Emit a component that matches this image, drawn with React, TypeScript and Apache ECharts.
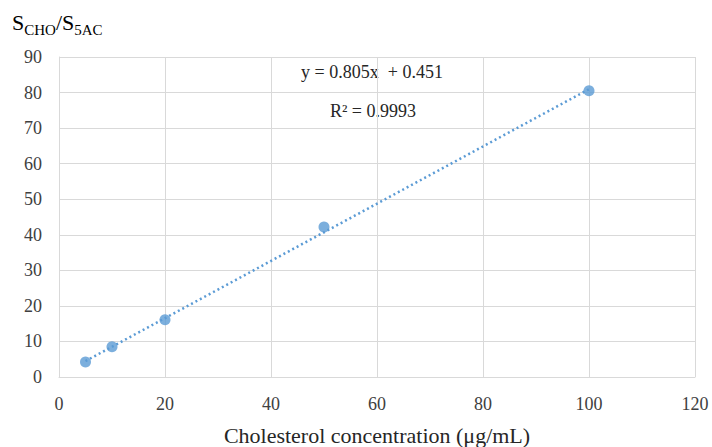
import React, { useEffect, useRef } from "react";
import * as echarts from "echarts";

const concentrations = [5, 10, 20, 50, 100];
const ratios = [4.2, 8.5, 16.1, 42.2, 80.5];
const fitSlope = 0.805;
const fitIntercept = 0.451;
const fitRange = [5, 100];
const equationLabel = "y = 0.805x  + 0.451";
const r2Label = "R² = 0.9993";
const xTitle = "Cholesterol concentration (μg/mL)";

export default function App() {
  const ref = useRef<HTMLDivElement>(null);
  useEffect(() => {
    if (!ref.current) return;
    const chart = echarts.init(ref.current, undefined, { renderer: "svg" });
    const font = "Liberation Serif";
    const trend = fitRange.map((x) => [x, fitSlope * x + fitIntercept]);
    chart.setOption({
      animation: false,
      backgroundColor: "#ffffff",
      grid: {
        left: 59,
        right: 17,
        top: 57,
        bottom: 70,
        containLabel: false,
        outerBoundsMode: "none",
      },
      xAxis: {
        type: "value",
        min: 0,
        max: 120,
        interval: 20,
        name: xTitle,
        nameLocation: "middle",
        nameGap: 47,
        nameTextStyle: { fontFamily: font, fontSize: 22, color: "#262626" },
        axisLine: { show: true, lineStyle: { color: "#d9d9d9" } },
        axisTick: { show: false },
        axisLabel: { fontFamily: font, fontSize: 18, color: "#404040", margin: 18 },
        splitLine: { show: true, lineStyle: { color: "#d9d9d9", width: 1 } },
      },
      yAxis: {
        type: "value",
        min: 0,
        max: 90,
        interval: 10,
        axisLine: { show: true, lineStyle: { color: "#d9d9d9" } },
        axisTick: { show: false },
        axisLabel: { fontFamily: font, fontSize: 18, color: "#404040", margin: 17 },
        splitLine: { show: true, lineStyle: { color: "#d9d9d9", width: 1 } },
      },
      graphic: [
        {
          type: "text",
          left: 12,
          top: 11,
          style: {
            text: "{m|S}{s|CHO}{m|/S}{s|5AC}",
            rich: {
              m: { fontFamily: font, fontSize: 22, color: "#262626", padding: [0, 0, 4, 0], verticalAlign: "bottom" },
              s: { fontFamily: font, fontSize: 15, color: "#262626", verticalAlign: "bottom" },
            },
          },
        },
        {
          type: "text",
          x: 372,
          y: 72,
          style: {
            text: equationLabel,
            fontFamily: font,
            fontSize: 18,
            fill: "#262626",
            align: "center",
            verticalAlign: "middle",
          },
        },
        {
          type: "text",
          x: 373,
          y: 111,
          style: {
            text: r2Label,
            fontFamily: font,
            fontSize: 18,
            fill: "#262626",
            align: "center",
            verticalAlign: "middle",
          },
        },
      ],
      series: [
        {
          type: "line",
          data: trend,
          showSymbol: false,
          symbol: "none",
          lineStyle: { color: "#5b9bd5", width: 2.5, type: [2, 3] },
          z: 2,
        },
        {
          type: "scatter",
          data: concentrations.map((x, i) => [x, ratios[i]]),
          symbol: "circle",
          symbolSize: 11,
          itemStyle: { color: "#5b9bd5" },
          z: 3,
        },
      ],
    });
    return () => chart.dispose();
  }, []);
  return (
    <div
      ref={ref}
      style={{ position: "absolute", left: 0, top: 0, width: 712, height: 447 }}
    />
  );
}
